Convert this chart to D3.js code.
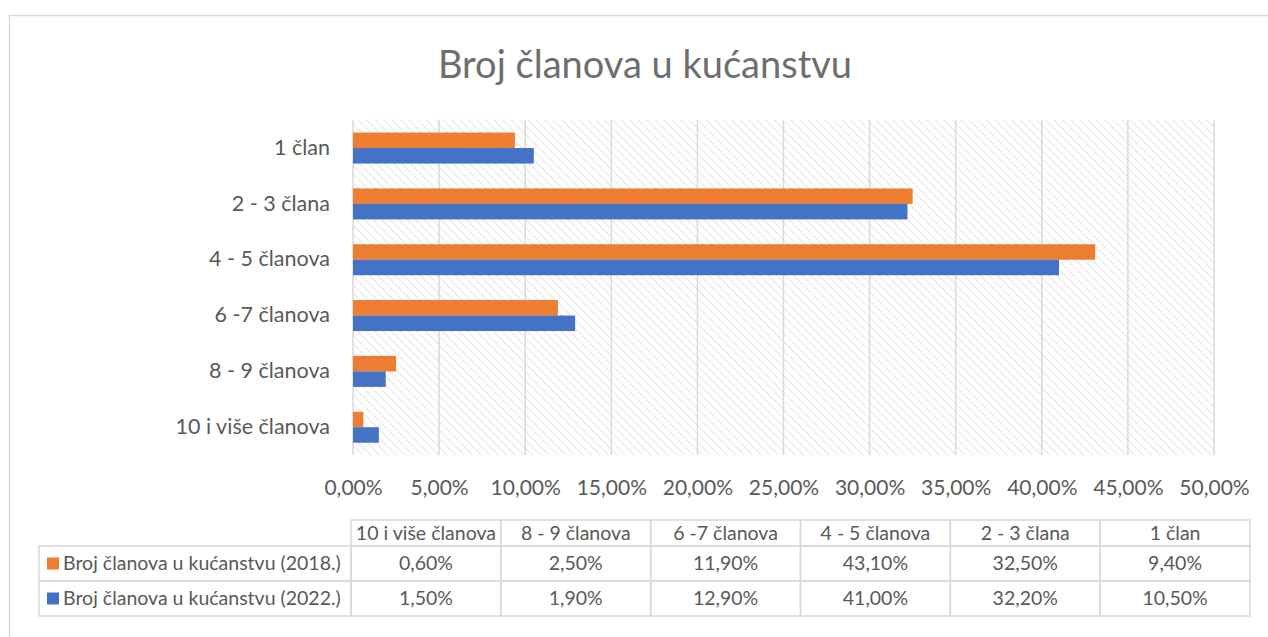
<!DOCTYPE html>
<html>
<head>
<meta charset="utf-8">
<script src="https://cdn.jsdelivr.net/npm/d3@7"></script>
<style>
  body { margin: 0; background: #fff; }
  svg { display: block; font-family: Lato, "Open Sans", sans-serif; }
</style>
</head>
<body>
<div id="chart"></div>
<script>
const categories = ["1 član", "2 - 3 člana", "4 - 5 članova", "6 -7 članova", "8 - 9 članova", "10 i više članova"];
const seriesNames = ["Broj članova u kućanstvu (2018.)", "Broj članova u kućanstvu (2022.)"];
const values2018 = [9.4, 32.5, 43.1, 11.9, 2.5, 0.6];
const values2022 = [10.5, 32.2, 41.0, 12.9, 1.9, 1.5];
const xTicks = [0, 5, 10, 15, 20, 25, 30, 35, 40, 45, 50];
const colors = ["#ED7D31", "#4472C4"];

const width = 1268, height = 637;
const textColor = "#595959";
const gridColor = "#d9d9d9";
const fmt = v => v.toFixed(2).replace(".", ",") + "%";

const svg = d3.select("#chart").append("svg")
  .attr("width", width)
  .attr("height", height);

// hatched plot background
const defs = svg.append("defs");
const pat = defs.append("pattern")
  .attr("id", "hatch")
  .attr("patternUnits", "userSpaceOnUse")
  .attr("width", 6)
  .attr("height", 6)
  .attr("patternTransform", "rotate(-45)");
pat.append("line")
  .attr("x1", 0).attr("y1", 0).attr("x2", 0).attr("y2", 6)
  .attr("stroke", "#dedede")
  .attr("stroke-width", 1.6);

// outer frame
svg.append("rect")
  .attr("x", 9.5).attr("y", 15.5)
  .attr("width", width + 20).attr("height", height)
  .attr("fill", "none")
  .attr("stroke", gridColor)
  .attr("stroke-width", 1.5);

svg.append("text")
  .attr("x", 645)
  .attr("y", 78)
  .attr("text-anchor", "middle")
  .attr("font-size", 38)
  .attr("fill", "#6e6e6e")
  .text("Broj članova u kućanstvu");

const x = d3.scaleLinear().domain([0, 50]).range([353, 1214]);
const y = d3.scaleBand().domain(categories).range([120, 455]);
const ySub = d3.scaleBand().domain([0, 1])
  .range([y.bandwidth() * 0.225, y.bandwidth() * 0.78]);

svg.append("rect")
  .attr("x", x(0)).attr("y", 120)
  .attr("width", x(50) - x(0)).attr("height", 335)
  .attr("fill", "url(#hatch)");

// gridlines
svg.append("g")
  .selectAll("line")
  .data(xTicks)
  .join("line")
  .attr("x1", d => x(d)).attr("x2", d => x(d))
  .attr("y1", 120).attr("y2", 455)
  .attr("stroke", gridColor)
  .attr("stroke-width", 1.5);

// x axis labels
const xAxis = svg.append("g")
  .attr("transform", "translate(0,455)")
  .call(d3.axisBottom(x).tickValues(xTicks).tickFormat(fmt).tickSize(0).tickPadding(25));
xAxis.select(".domain").remove();
xAxis.selectAll("text")
  .attr("font-family", "Lato, 'Open Sans', sans-serif")
  .attr("font-size", 21)
  .attr("fill", textColor);

// y axis labels
const yAxis = svg.append("g")
  .attr("transform", `translate(${x(0)},0)`)
  .call(d3.axisLeft(y).tickSize(0).tickPadding(23));
yAxis.select(".domain").remove();
yAxis.selectAll("text")
  .attr("font-family", "Lato, 'Open Sans', sans-serif")
  .attr("font-size", 21.5)
  .attr("fill", textColor);

// bars
const series = [values2018, values2022];
series.forEach((vals, si) => {
  svg.append("g")
    .selectAll("rect")
    .data(categories)
    .join("rect")
    .attr("x", x(0))
    .attr("y", (d, i) => y(d) + ySub(si))
    .attr("width", (d, i) => x(vals[i]) - x(0))
    .attr("height", ySub.bandwidth())
    .attr("fill", colors[si]);
});

// data table
const tableCats = categories.slice().reverse();
const colX = d3.scaleBand().domain(tableCats).range([351, 1250]);
const rowY = [520, 546, 581, 616];
const table = svg.append("g").attr("stroke", gridColor).attr("stroke-width", 1.5).attr("fill", "none");

// header cells
table.selectAll(".hdr")
  .data(tableCats)
  .join("rect")
  .attr("x", d => colX(d)).attr("y", rowY[0])
  .attr("width", colX.bandwidth()).attr("height", rowY[1] - rowY[0]);
// data rows
[0, 1].forEach(r => {
  table.append("rect")
    .attr("x", 39).attr("y", rowY[r + 1])
    .attr("width", 351 - 39).attr("height", rowY[r + 2] - rowY[r + 1]);
  table.selectAll(".r" + r)
    .data(tableCats)
    .join("rect")
    .attr("x", d => colX(d)).attr("y", rowY[r + 1])
    .attr("width", colX.bandwidth()).attr("height", rowY[r + 2] - rowY[r + 1]);
});

const tt = svg.append("g")
  .attr("font-size", 19.5)
  .attr("fill", textColor);

tt.selectAll(".h")
  .data(tableCats)
  .join("text")
  .attr("x", d => colX(d) + colX.bandwidth() / 2)
  .attr("y", (rowY[0] + rowY[1]) / 2)
  .attr("dy", "0.35em")
  .attr("text-anchor", "middle")
  .text(d => d);

series.forEach((vals, si) => {
  const cy = (rowY[si + 1] + rowY[si + 2]) / 2;
  tt.append("rect")
    .attr("x", 47).attr("y", cy - 6)
    .attr("width", 12).attr("height", 12)
    .attr("fill", colors[si]);
  tt.append("text")
    .attr("x", 63).attr("y", cy)
    .attr("dy", "0.35em")
    .text(seriesNames[si]);
  tt.selectAll(".v" + si)
    .data(tableCats)
    .join("text")
    .attr("x", d => colX(d) + colX.bandwidth() / 2)
    .attr("y", cy)
    .attr("dy", "0.35em")
    .attr("text-anchor", "middle")
    .text(d => fmt(vals[categories.indexOf(d)]));
});
</script>
</body>
</html>
